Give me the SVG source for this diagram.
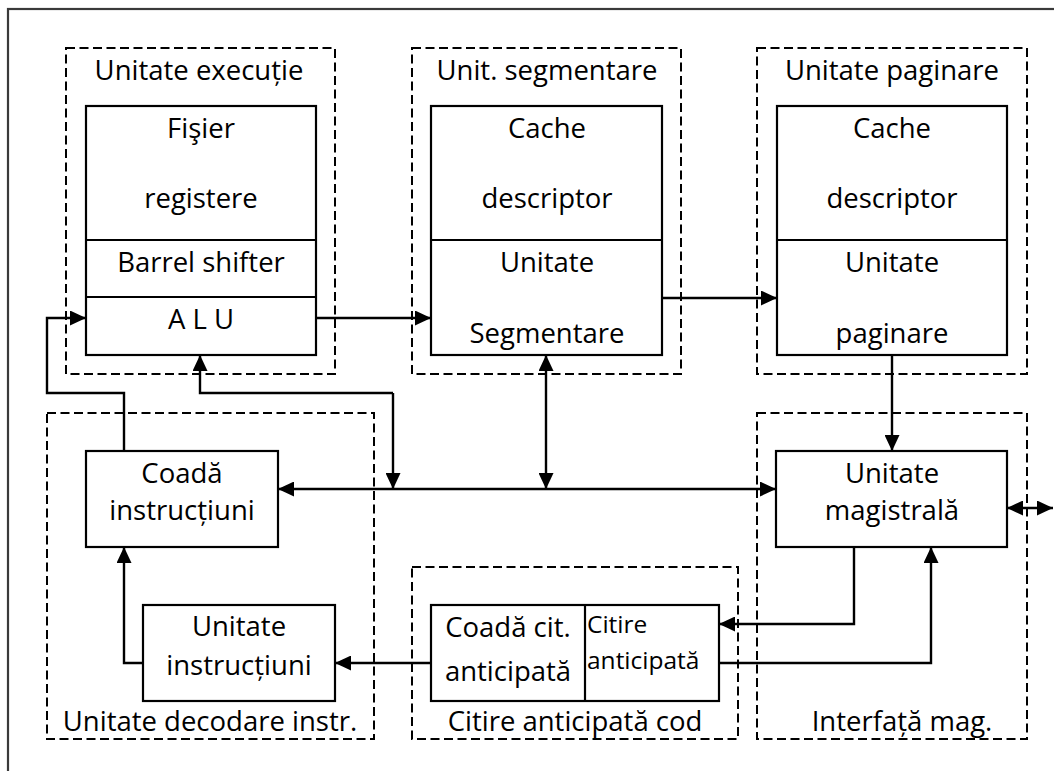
<svg xmlns="http://www.w3.org/2000/svg" width="1054" height="771" viewBox="0 0 1054 771">
  <style>
    .frame { fill: none; stroke: #3a3a3a; stroke-width: 2.2; }
    .group { fill: none; stroke: #000; stroke-width: 2; stroke-dasharray: 9 4.5; }
    .box { fill: #fff; stroke: #000; stroke-width: 2.2; }
    .div { stroke: #000; stroke-width: 2.2; }
    .arrow { fill: none; stroke: #000; stroke-width: 2.4; marker-end: url(#head); }
    .both { fill: none; stroke: #000; stroke-width: 2.4; marker-start: url(#head); marker-end: url(#head); }
    text { font-family: "Open Sans", "Liberation Sans", sans-serif; font-size: 27.5px; fill: #000; text-anchor: middle; }
    .small { font-size: 24.5px; text-anchor: start; }
  </style>
  <defs>
    <marker id="head" markerUnits="userSpaceOnUse" markerWidth="16" markerHeight="15" refX="16" refY="7.5" orient="auto-start-reverse">
      <path d="M0,0 L16,7.5 L0,15 z" fill="#000"/>
    </marker>
  </defs>

  <rect class="frame" x="8" y="9" width="1060" height="780"/>

  <!-- execution unit -->
  <g id="exec-unit">
    <rect class="group" x="66" y="48" width="269" height="326"/>
    <text x="199" y="80">Unitate execuție</text>
    <rect class="box" x="86" y="106" width="230" height="249"/>
    <line class="div" x1="86" y1="240" x2="316" y2="240"/>
    <line class="div" x1="86" y1="297" x2="316" y2="297"/>
    <text x="201" y="138">Fişier</text>
    <text x="201" y="208">registere</text>
    <text x="201" y="272">Barrel shifter</text>
    <text x="201" y="329">A L U</text>
  </g>

  <!-- segmentation unit -->
  <g id="seg-unit">
    <rect class="group" x="412" y="48" width="269" height="326"/>
    <text x="547" y="80">Unit. segmentare</text>
    <rect class="box" x="431" y="106" width="231" height="249"/>
    <line class="div" x1="431" y1="240" x2="662" y2="240"/>
    <text x="547" y="138">Cache</text>
    <text x="547" y="208">descriptor</text>
    <text x="547" y="272">Unitate</text>
    <text x="547" y="343">Segmentare</text>
  </g>

  <!-- paging unit -->
  <g id="page-unit">
    <rect class="group" x="757" y="48" width="270" height="326"/>
    <text x="892" y="80">Unitate paginare</text>
    <rect class="box" x="777" y="106" width="230" height="249"/>
    <line class="div" x1="777" y1="240" x2="1007" y2="240"/>
    <text x="892" y="138">Cache</text>
    <text x="892" y="208">descriptor</text>
    <text x="892" y="272">Unitate</text>
    <text x="892" y="343">paginare</text>
  </g>

  <!-- instruction decode unit -->
  <g id="decode-unit">
    <rect class="group" x="47" y="413" width="327" height="326"/>
    <rect class="box" x="86" y="451" width="192" height="96"/>
    <text x="182" y="483">Coadă</text>
    <text x="182" y="520">instrucțiuni</text>
    <rect class="box" x="143" y="605" width="192" height="96"/>
    <text x="239" y="636">Unitate</text>
    <text x="239" y="675">instrucțiuni</text>
    <text x="210" y="731">Unitate decodare instr.</text>
  </g>

  <!-- code prefetch unit -->
  <g id="prefetch-unit">
    <rect class="group" x="412" y="567" width="326" height="172"/>
    <rect class="box" x="431" y="605" width="288" height="96"/>
    <line class="div" x1="585" y1="605" x2="585" y2="701"/>
    <text x="508" y="637">Coadă cit.</text>
    <text x="508" y="681">anticipată</text>
    <text class="small" x="587" y="633">Citire</text>
    <text class="small" x="587" y="669">anticipată</text>
    <text x="575" y="731">Citire anticipată cod</text>
  </g>

  <!-- bus interface -->
  <g id="bus-unit">
    <rect class="group" x="757" y="413" width="270" height="326"/>
    <rect class="box" x="776" y="451" width="231" height="96"/>
    <text x="892" y="483">Unitate</text>
    <text x="892" y="520">magistrală</text>
    <text x="902" y="731">Interfață mag.</text>
  </g>

  <g id="connectors">
    <!-- pipeline across the top row -->
    <path class="arrow" d="M316,318 H431"/>
    <path class="arrow" d="M662,298 H777"/>
    <path class="arrow" d="M892,355 V451"/>
    <!-- instruction queue feeds the ALU -->
    <path class="arrow" d="M124,451 V393 H47 V318 H86"/>
    <!-- ALU to/from internal bus -->
    <path class="arrow" d="M393,393 H200 V355"/>
    <path class="arrow" d="M393,393 V489"/>
    <!-- segmentation to/from internal bus -->
    <path class="both" d="M546,355 V489"/>
    <!-- internal bus -->
    <path class="both" d="M278,489 H776"/>
    <!-- decoder chain -->
    <path class="arrow" d="M143,663 H124 V547"/>
    <path class="arrow" d="M431,663 H335"/>
    <!-- prefetch exchange with bus unit -->
    <path class="arrow" d="M854,547 V624 H719"/>
    <path class="arrow" d="M719,663 H931 V547"/>
    <!-- external bus -->
    <path class="both" d="M1007,508 H1053"/>
  </g>
</svg>
